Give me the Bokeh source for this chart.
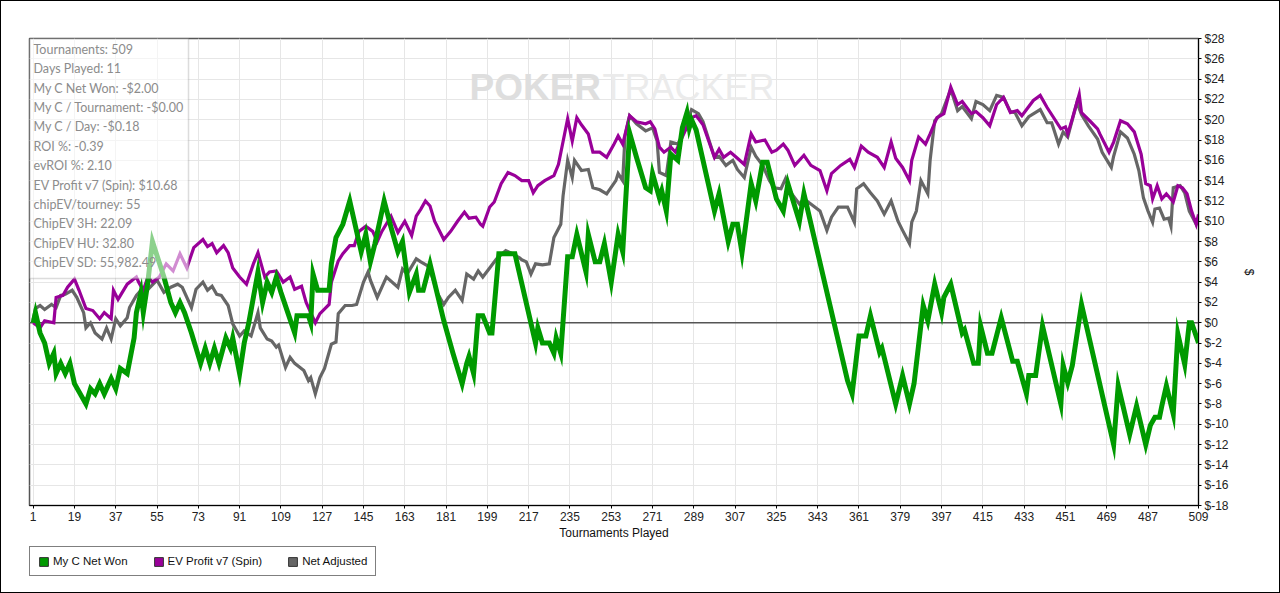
from bokeh.plotting import figure
from bokeh.layouts import column
from bokeh.models import (Range1d, FixedTicker, Legend, LegendItem, BoxAnnotation,
                          Label, Span)
from bokeh.embed import file_html
from bokeh.resources import INLINE

# ---------------- data ----------------
x_ticks = [1, 19, 37, 55, 73, 91, 109, 127, 145, 163, 181, 199, 217, 235, 253, 271,
           289, 307, 325, 343, 361, 379, 397, 415, 433, 451, 469, 487, 509]
y_ticks = list(range(-18, 29, 2))

green_t = [1, 2, 4, 6, 8, 10, 11, 13, 15, 17, 19, 24, 26, 28, 30, 32, 35, 37, 39, 42,
           45, 46, 48, 49, 51, 53, 58, 61, 63, 65, 67, 70, 72, 74, 76, 78, 80, 82, 85, 87,
           88, 91, 93, 95, 99, 101, 103, 105, 107, 109, 112, 115, 116, 121, 122, 123, 125, 130, 131, 133,
           136, 139, 144, 146, 148, 150, 154, 157, 160, 162, 165, 168, 169, 171, 174, 180, 184, 188, 190, 191,
           193, 195, 197, 200, 201, 204, 211, 220, 221, 223, 226, 228, 229, 231, 234, 236, 238, 242, 243, 246,
           248, 250, 253, 256, 258, 261, 264, 268, 270, 271, 274, 275, 277, 279, 282, 284, 286, 287, 288, 290,
           298, 300, 304, 306, 308, 310, 314, 316, 319, 321, 325, 328, 330, 335, 337, 356, 358, 361, 364, 366,
           370, 371, 377, 380, 383, 385, 389, 391, 394, 397, 398, 401, 406, 407, 411, 413, 414, 417, 419, 423,
           428, 430, 434, 435, 438, 441, 449, 450, 452, 454, 458, 472, 474, 479, 482, 486, 488, 490, 492, 493,
           495, 498, 500, 503, 505, 506, 509]
green_v = [0, 1, -1, -2, -4, -3, -5, -4, -5, -4, -6, -8, -6.5, -7, -6, -7, -5.5, -6.5, -4.5, -5,
           -1.5, 1, 3, 1, 4, 8, 4.5, 2, 1, 2, 1, -1, -2.5, -4, -2.5, -4, -2.5, -4, -1.5, -2.5,
           -1.5, -5, -2, 0, 5, 2, 4, 3, 4.5, 3, 1, -1, 0.7, 0.7, 0, 4.8, 3.2, 3.2, 5.8, 8.4,
           9.7, 12, 7, 8.7, 6, 7.8, 12, 9.4, 7, 8, 3, 4.8, 3.2, 3.2, 5.8, 0.2, -3, -6, -4, -3.3,
           -5, 0.7, 0.7, -1, -1, 6.8, 6.8, -2, -0.5, -2, -2, -3, -1.5, -3, 6.5, 6.5, 8.7, 5, 8.7, 6,
           6, 7.8, 4, 8.7, 7, 18.7, 16.3, 13.3, 13, 14.7, 12.3, 13, 11, 16.6, 16, 19.2, 20.7, 19.2, 20, 19,
           11, 12.7, 8, 9.7, 9.7, 6.9, 13.7, 12, 15.8, 15.8, 12.2, 11, 13.7, 10, 12.7, -5.7, -7, -1.3, -1.3, 0.7,
           -2.9, -2.5, -8, -5.2, -8, -6, 1.7, 0.2, 3.8, 1, 2.5, 3.8, -1, -0.7, -4, -4, -0.3, -3, -3, 0.5,
           -3.8, -3.8, -7, -5.2, -5.2, -0.3, -8, -4.2, -5.9, -4.2, 1.8, -12, -6.2, -11, -8.2, -12, -10.1, -9.3, -9.3, -8.2,
           -6.2, -9, -1.1, -4.1, 0, 0, -2]

purple_t = [1, 4, 6, 10, 11, 14, 16, 19, 21, 24, 27, 30, 32, 35, 36, 38, 42, 46, 47, 49,
            51, 53, 56, 59, 62, 65, 68, 71, 75, 77, 79, 81, 84, 86, 88, 91, 94, 97, 99, 102,
            104, 107, 110, 113, 115, 118, 120, 122, 124, 126, 130, 131, 134, 136, 139, 141, 143, 146, 149, 151,
            153, 157, 160, 163, 166, 168, 170, 172, 174, 176, 180, 183, 186, 189, 191, 194, 196, 197, 200, 202,
            205, 208, 211, 214, 217, 219, 221, 224, 228, 230, 234, 236, 238, 240, 243, 245, 248, 251, 254, 256,
            258, 261, 264, 268, 270, 272, 274, 276, 279, 281, 285, 288, 290, 293, 298, 300, 302, 305, 308, 311,
            314, 316, 320, 323, 325, 328, 330, 333, 337, 340, 344, 347, 349, 353, 357, 359, 362, 365, 369, 372,
            375, 377, 380, 383, 384, 387, 390, 392, 395, 398, 401, 404, 406, 410, 412, 415, 418, 421, 424, 427,
            430, 432, 437, 440, 443, 449, 451, 452, 454, 457, 458, 462, 465, 466, 470, 472, 475, 478, 481, 484,
            486, 488, 489, 491, 493, 495, 498, 500, 502, 504, 506, 508, 509]
purple_v = [0, -0.5, 0.2, 0, 2.5, 2.7, 3.5, 4.3, 3.2, 1.4, 1.2, 0.4, 1, 0.4, 3.2, 2.3, 3.8, 4.5, 4, 3.2,
            4.5, 4, 4.5, 5.8, 5.1, 6.8, 5.4, 7.4, 8.2, 7.5, 7.8, 6.9, 7.6, 6.9, 5.4, 4.5, 3.8, 5.8, 6.9, 4.5,
            5, 5.1, 4, 4.5, 3.3, 3.6, 2, 1, 0, 0.9, 1.8, 4, 6.1, 6.8, 7.6, 7.6, 9, 9.5, 9, 8,
            9, 10.5, 8.9, 10, 8.6, 10.5, 11.2, 12, 11.5, 10, 8.2, 9, 10, 10.9, 10.3, 10.4, 9.7, 9.5, 11.4, 11.9,
            13.7, 14.8, 14.5, 14, 14, 12.8, 13.5, 14, 14.5, 15.6, 20.1, 17.9, 20.2, 19.5, 18.6, 16.8, 16.8, 16.3, 17.5, 18.4,
            17.6, 20.4, 19.8, 19.6, 19.8, 19.1, 17.3, 16.8, 17.3, 16.8, 18.8, 20.2, 20.4, 19.5, 16.3, 17.1, 16.3, 16.8, 16.2, 15.6,
            18.6, 17.8, 18, 16.8, 17, 17.6, 17, 15.5, 16.5, 15.5, 15, 13, 14.7, 15.5, 16.1, 15.3, 17.4, 16.8, 16.3, 15.3,
            17.8, 16.2, 15.3, 14, 16, 18.3, 17.6, 18.6, 20.2, 20.6, 23.2, 21.5, 21.8, 20.6, 20.8, 20.2, 19.4, 21.5, 22.2, 20.7,
            20.9, 20.4, 21.9, 22.4, 21.2, 19.1, 19.3, 18.6, 20.1, 22.5, 20.7, 19.8, 19.1, 18.6, 16.8, 17.8, 19.9, 19.6, 18.8, 16.6,
            13.7, 13.5, 12.2, 13.5, 12.2, 12.7, 11.9, 13.5, 13.3, 12.7, 11, 9.7, 10.68]

gray_t = [1, 2, 4, 6, 9, 11, 13, 15, 18, 20, 23, 24, 26, 28, 31, 33, 35, 37, 39, 42,
          43, 46, 48, 49, 52, 55, 58, 61, 64, 66, 70, 72, 75, 77, 79, 81, 83, 86, 88, 91,
          93, 96, 99, 100, 103, 105, 107, 108, 111, 113, 115, 119, 121, 122, 124, 126, 128, 131, 133, 134,
          137, 140, 142, 145, 147, 148, 151, 154, 155, 160, 162, 164, 168, 170, 173, 175, 177, 180, 182, 185,
          188, 190, 193, 195, 197, 200, 203, 207, 209, 213, 214, 216, 218, 220, 223, 226, 228, 231, 232, 234,
          236, 237, 240, 243, 245, 248, 251, 255, 256, 258, 259, 261, 264, 268, 271, 273, 274, 277, 279, 282,
          285, 288, 291, 293, 298, 300, 303, 306, 308, 311, 314, 316, 319, 322, 324, 327, 329, 331, 335, 337,
          340, 344, 347, 349, 352, 356, 359, 360, 363, 366, 369, 372, 375, 378, 380, 383, 384, 386, 388, 391,
          392, 394, 397, 401, 404, 406, 410, 412, 415, 418, 421, 424, 427, 429, 432, 435, 440, 443, 445, 448,
          450, 452, 456, 458, 461, 465, 467, 471, 472, 475, 478, 481, 483, 485, 487, 489, 490, 492, 494, 496,
          497, 498, 501, 503, 505, 508, 509]
gray_v = [0.3, 1.4, 1.7, 1.3, 1.8, 1.5, 2.7, 2.8, 3.2, 2.5, 1, -0.5, 0, -1, -1.6, -0.5, -1.6, 0.4, -0.3, 0.5,
          1.5, 2.7, 3.2, 2.8, 3.5, 4.2, 3, 3.5, 3.8, 3.5, 1.5, 3.3, 4, 3.2, 3.6, 2.8, 2.7, 1.7, -0.1, -1.3,
          -0.8, -1.3, 1, -0.5, -1.6, -1.8, -2.4, -2.2, -4.4, -3.4, -4, -4.7, -5.7, -5.4, -7, -5.4, -4.5, -2.1, -1.9, 0.9,
          1.7, 1.7, 1.8, 4, 5, 4.2, 2.5, 4, 4.5, 3.5, 5.3, 4.8, 6.3, 6, 5.6, 4.5, 3, 1.8, 2.5, 3.2,
          2.2, 4.8, 4.3, 5.1, 4.5, 5.4, 6.3, 7.1, 6.9, 6.4, 6.2, 6, 4.8, 5.8, 5.7, 5.8, 8.4, 9.7, 12.5, 16,
          14.3, 16, 15, 15.1, 13.3, 13.1, 12.7, 14, 14.7, 14, 18.4, 20.4, 19.6, 18.9, 19.2, 17.9, 14.8, 14.5, 17.8, 17.6,
          18.9, 21, 20.6, 19.8, 16.3, 16.4, 15.5, 16, 15.1, 14.3, 17.3, 16.4, 15.5, 14, 13.3, 13.2, 14.2, 12.9, 11.7, 12.2,
          11.7, 11, 9.1, 10.4, 11.4, 11.4, 9.9, 13.2, 13.7, 12.8, 12, 10.7, 12, 10, 9.1, 7.8, 9.9, 11, 14, 12.7,
          16, 19.9, 20.6, 23, 20.9, 21.3, 20.1, 21.8, 21.5, 20.9, 22.4, 22.2, 20.8, 20.7, 19.4, 20.3, 21, 19.7, 19.7, 17.6,
          18.8, 18.3, 21.7, 20.5, 19.4, 18.1, 16.8, 15.3, 16.4, 18.8, 18.2, 16.6, 15, 12.3, 11, 9.9, 11.2, 11.3, 10.2, 10.3,
          9.5, 13.3, 13.5, 12.8, 11, 9.7, 10]

series_names = ["My C Net Won", "EV Profit v7 (Spin)", "Net Adjusted"]
series_colors = ["#009a00", "#990099", "#666666"]

stats_lines = ["Tournaments: 509", "Days Played: 11", "My C Net Won: -$2.00",
               "My C / Tournament: -$0.00", "My C / Day: -$0.18", "ROI %: -0.39",
               "evROI %: 2.10", "EV Profit v7 (Spin): $10.68", "chipEV/tourney: 55",
               "ChipEV 3H: 22.09", "ChipEV HU: 32.80", "ChipEV SD: 55,982.49"]

# ---------------- layout geometry (px of the reference) ----------------
W = 1280
H1, H2 = 544, 49                              # main chart + legend strip
FL, FR, FT, FB = 29, 1198, 38, 505            # frame edges inside the main figure
X0, X1 = -0.6, 509
Y0, Y1 = -18, 28

def dx(px):
    return X0 + (px - FL) * (X1 - X0) / (FR - FL)

def dy(py):
    return Y1 - (py - FT) * (Y1 - Y0) / (FB - FT)

AXFONT = "Liberation Sans"

p = figure(width=W, height=H1, output_backend="svg", toolbar_location=None,
           x_range=Range1d(X0, X1), y_range=Range1d(Y0, Y1),
           y_axis_location="right",
           min_border_left=FL, min_border_right=W - FR,
           min_border_top=FT, min_border_bottom=H1 - FB)
p.background_fill_color = "white"
p.border_fill_color = "white"
p.outline_line_color = "#555555"
p.outline_line_width = 1.5

p.xgrid.ticker = FixedTicker(ticks=x_ticks)
p.ygrid.ticker = FixedTicker(ticks=y_ticks)
p.xgrid.grid_line_color = "#e6e6e6"
p.ygrid.grid_line_color = "#e6e6e6"

for ax in (p.xaxis[0], p.yaxis[0]):
    ax.axis_line_color = "black"
    ax.axis_line_width = 1
    ax.major_tick_line_color = "black"
    ax.major_tick_in = 0
    ax.major_tick_out = 3
    ax.minor_tick_line_color = None
    ax.major_label_text_font = AXFONT
    ax.major_label_text_font_size = "12px"
    ax.major_label_text_color = "#222222"
    ax.axis_label_text_font = AXFONT
    ax.axis_label_text_font_size = "12px"
    ax.axis_label_text_font_style = "normal"
    ax.axis_label_text_color = "#111111"
    ax.major_label_standoff = 3

p.xaxis.ticker = FixedTicker(ticks=x_ticks)
p.xaxis.axis_label = "Tournaments Played"
p.xaxis.axis_label_standoff = 2
p.yaxis.ticker = FixedTicker(ticks=y_ticks)
p.yaxis.major_label_overrides = {v: "$" + str(v) for v in y_ticks}
p.yaxis.axis_label = "$"
p.yaxis.axis_label_standoff = 10

p.add_layout(Span(location=0, dimension="width", line_color="#555555",
                  line_width=1.5, level="underlay"))

# watermark
p.add_layout(Label(x=dx(469), y=dy(87), text="POKER", text_font=AXFONT,
                   text_font_size="37px", text_font_style="bold",
                   text_color="#dedede", text_baseline="middle", level="underlay"))
p.add_layout(Label(x=dx(602), y=dy(87), text="TRACKER", text_font=AXFONT,
                   text_font_size="36px", text_color="#ebebeb",
                   text_baseline="middle", level="underlay"))

# series
p.line(gray_t, gray_v, line_color=series_colors[2], line_width=3.2, line_join="miter")
p.line(purple_t, purple_v, line_color=series_colors[1], line_width=3.2, line_join="miter")
p.line(green_t, green_v, line_color=series_colors[0], line_width=5, line_join="miter")

# stats box
p.add_layout(BoxAnnotation(left=X0, right=dx(188), top=Y1, bottom=dy(278),
                           fill_color="white", fill_alpha=0.55,
                           line_color="#8a8a8a", line_width=1.5))
for i, s in enumerate(stats_lines):
    p.add_layout(Label(x=dx(33), y=dy(49 + i * 19.36), text=s, text_font="Lato",
                       text_font_size="12.5px", text_color="#8c8c8c",
                       text_baseline="middle"))

# title
p.add_layout(Label(x=dx(648), y=dy(21), text="Prizes Won over Tournaments Played",
                   text_font=AXFONT, text_font_size="12px", text_color="#111111",
                   text_align="center", text_baseline="middle"))

# legend strip (separate figure so the legend is not clipped)
q = figure(width=W, height=H2, output_backend="svg", toolbar_location=None,
           x_range=Range1d(0, W), y_range=Range1d(0, H2),
           min_border=0, x_axis_type=None, y_axis_type=None)
q.outline_line_color = None
q.grid.visible = False
q.background_fill_color = "white"
q.border_fill_color = "white"
# legend proxies: one swatch each, kept outside the visible range
sw = [q.quad(left=[-60], right=[-50], top=[-50], bottom=[-60], fill_color=c,
             line_color="#333333", line_width=1) for c in series_colors]
legend = Legend(items=[LegendItem(label=n, renderers=[r]) for n, r in zip(series_names, sw)],
                orientation="horizontal", location=(0, 17),
                border_line_color="black", border_line_width=1.2,
                background_fill_color="white", background_fill_alpha=1,
                label_text_font=AXFONT, label_text_font_size="11.5px",
                label_text_color="#111111", glyph_width=11, glyph_height=11,
                label_standoff=4, spacing=25, padding=8, margin=0)
q.add_layout(legend)

frame_css = (":host::after{content:'';position:absolute;left:0;top:0;right:0;bottom:0;"
             "border:1px solid #000;pointer-events:none;z-index:100;}")
layout = column(p, q, spacing=0, stylesheets=[frame_css])
open("out.html", "w").write(file_html(layout, INLINE))
